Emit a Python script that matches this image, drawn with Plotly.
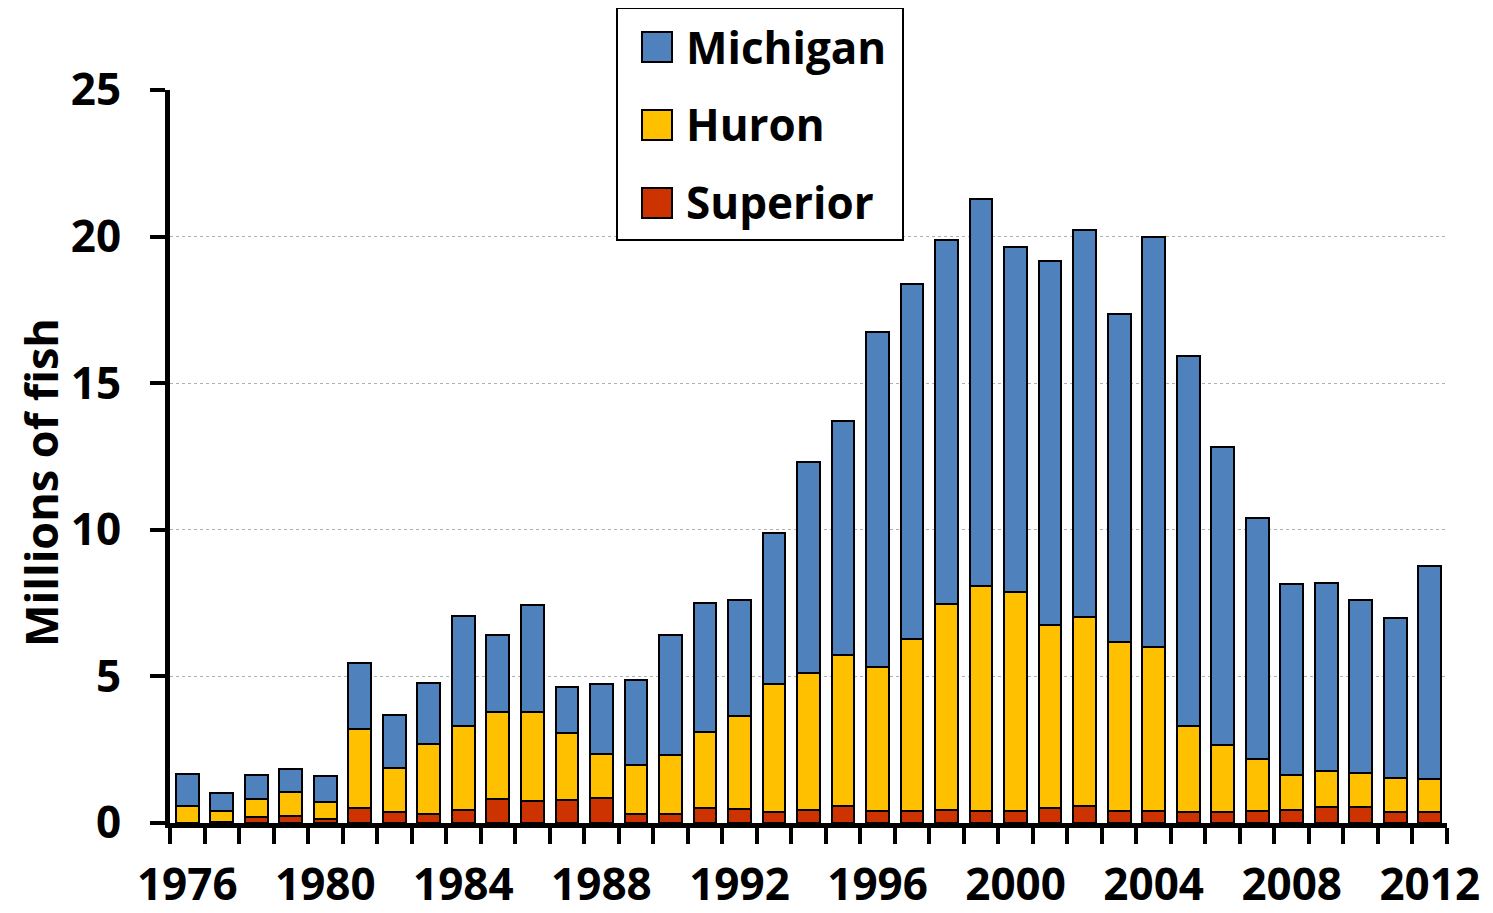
import plotly.graph_objects as go

years = list(range(1976, 2013))
superior = [0.00, 0.04, 0.20, 0.25, 0.12, 0.51, 0.37, 0.31, 0.44, 0.81,
            0.76, 0.78, 0.84, 0.32, 0.32, 0.51, 0.47, 0.38, 0.44, 0.58,
            0.42, 0.42, 0.45, 0.42, 0.42, 0.51, 0.58, 0.42, 0.42, 0.39,
            0.39, 0.42, 0.45, 0.56, 0.56, 0.39, 0.39]
huron = [0.59, 0.36, 0.61, 0.80, 0.60, 2.70, 1.52, 2.37, 2.88, 2.96,
         3.01, 2.29, 1.51, 1.65, 2.00, 2.59, 3.19, 4.35, 4.67, 5.15,
         4.90, 5.84, 7.01, 7.66, 7.46, 6.24, 6.44, 5.74, 5.58, 2.92,
         2.28, 1.75, 1.20, 1.22, 1.16, 1.14, 1.11]
michigan = [1.08, 0.63, 0.83, 0.79, 0.88, 2.24, 1.79, 2.08, 3.74, 2.64,
            3.65, 1.58, 2.40, 2.92, 4.09, 4.39, 3.96, 5.16, 7.20, 7.98,
            11.42, 12.13, 12.43, 13.20, 11.77, 12.43, 13.22, 11.21, 13.97, 12.61,
            10.15, 8.23, 6.50, 6.42, 5.90, 5.46, 7.27]
series_names = ["Superior", "Huron", "Michigan"]
series_colors = ["#CC3300", "#FFC000", "#4F81BD"]
label_years = [1976, 1980, 1984, 1988, 1992, 1996, 2000, 2004, 2008, 2012]
y_ticks = [0, 5, 10, 15, 20, 25]
y_title = "Millions of fish"

FONT = "Open Sans"
FS = 44

fig = go.Figure()
for name, vals, col in zip(series_names, [superior, huron, michigan], series_colors):
    fig.add_trace(go.Bar(x=years, y=vals, name=name, marker_color=col,
                         marker_line=dict(color="black", width=2),
                         width=0.66, showlegend=False))

fig.update_layout(
    barmode="stack",
    width=1485, height=905,
    margin=dict(l=162, r=46, t=82, b=90),
    paper_bgcolor="white", plot_bgcolor="white",
    font=dict(family=FONT, size=FS, color="black"),
    xaxis=dict(range=[1975.5, 2012.5], tickmode="array", tickvals=label_years,
               ticktext=[str(y) for y in label_years], ticks="",
               tickfont=dict(family=FONT, size=FS, color="black", weight="bold"),
               showline=True, linewidth=5, linecolor="black", showgrid=False,
               zeroline=False, ticklabelstandoff=19, automargin=False,
               minor=dict(ticks="outside", tick0=1975.5, dtick=1, ticklen=16,
                          tickwidth=4, tickcolor="black", showgrid=False)),
    yaxis=dict(range=[0, 25], tickmode="array", tickvals=y_ticks, ticks="outside",
               ticklen=15, tickwidth=4, tickcolor="black",
               tickfont=dict(family=FONT, size=FS, color="black", weight="bold"),
               showline=True, linewidth=5, linecolor="black",
               showgrid=True, gridcolor="#b0b0b0", gridwidth=1, griddash="dot",
               zeroline=False, ticklabelstandoff=20, automargin=False),
)

# positions in screen pixels -> paper coordinates
W, H, L = 1277, 733, 170
def px_x(p):
    return (p - L) / W
def px_y(p):
    return (823 - p) / H

# y-axis title
fig.add_annotation(xref="paper", yref="paper", x=px_x(40), y=px_y(483),
                   xanchor="center", yanchor="middle", textangle=-90,
                   text=y_title, showarrow=False,
                   font=dict(family=FONT, size=45, color="black", weight="bold"))

# legend drawn manually (large swatches)
fig.add_shape(type="rect", xref="paper", yref="paper",
              x0=px_x(617), x1=px_x(903), y0=px_y(240), y1=px_y(8),
              line=dict(color="black", width=2), fillcolor="white", layer="above")
leg_items = [("Michigan", "#4F81BD", 32, 47), ("Huron", "#FFC000", 110, 124),
             ("Superior", "#CC3300", 188, 202)]
for name, col, top, mid in leg_items:
    fig.add_shape(type="rect", xref="paper", yref="paper",
                  x0=px_x(642), x1=px_x(672), y0=px_y(top + 30), y1=px_y(top),
                  line=dict(color="black", width=2), fillcolor=col, layer="above")
    fig.add_annotation(xref="paper", yref="paper", x=px_x(684), y=px_y(mid),
                       xanchor="left", yanchor="middle", text=name, showarrow=False,
                       font=dict(family=FONT, size=FS, color="black", weight="bold"))

fig.write_html("out.html")
